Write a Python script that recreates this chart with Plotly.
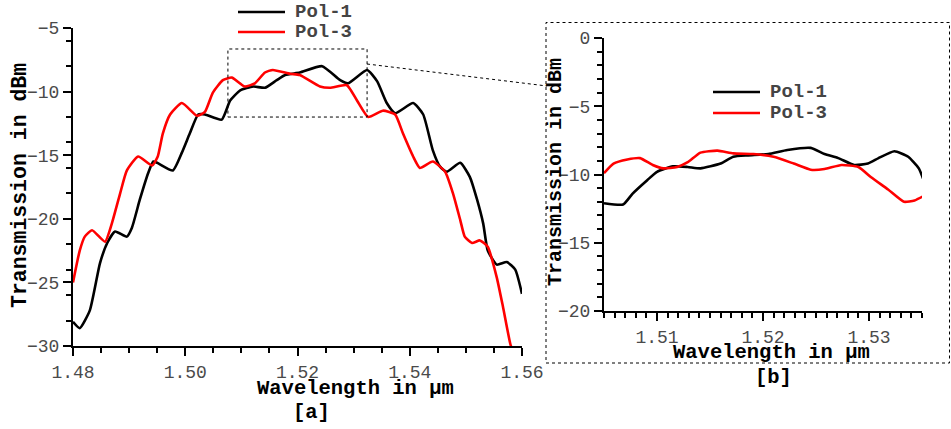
import plotly.graph_objects as go

# ---- Panel [a] data ----
a_pol1_x = [1.4800, 1.4812, 1.4830, 1.4848, 1.4861, 1.4875, 1.4896, 1.4905, 1.4919, 1.4934,
            1.4943, 1.4950, 1.4978, 1.4994, 1.5008, 1.5023, 1.5035, 1.5065, 1.5080, 1.5098,
            1.5121, 1.5142, 1.5163, 1.5178, 1.5204, 1.5244, 1.5276, 1.5290, 1.5324, 1.5342,
            1.5359, 1.5374, 1.5406, 1.5424, 1.5441, 1.5454, 1.5466, 1.5490, 1.5507, 1.5520,
            1.5531, 1.5539, 1.5555, 1.5573, 1.5588, 1.5600]
a_pol1_y = [-28.1, -28.6, -27.2, -23.5, -21.9, -21.0, -21.4, -20.7, -18.5, -16.4,
            -15.5, -15.6, -16.2, -14.8, -13.3, -11.8, -11.8, -12.2, -10.7, -9.9,
            -9.6, -9.7, -9.1, -8.7, -8.5, -8.0, -9.1, -9.35, -8.3, -9.2,
            -10.9, -11.7, -10.9, -11.8, -14.6, -15.9, -16.3, -15.6, -16.7, -18.5,
            -20.4, -22.5, -23.6, -23.4, -24.0, -25.9]

a_pol3_x = [1.4800, 1.4812, 1.4821, 1.4834, 1.4857, 1.4869, 1.4884, 1.4896, 1.4916, 1.4941,
            1.4951, 1.4960, 1.4973, 1.4994, 1.5021, 1.5035, 1.5049, 1.5067, 1.5083, 1.5106,
            1.5124, 1.5142, 1.5156, 1.5187, 1.5204, 1.5240, 1.5258, 1.5288, 1.5306, 1.5326,
            1.5352, 1.5374, 1.5388, 1.5406, 1.5418, 1.5441, 1.5463, 1.5477, 1.5490, 1.5498,
            1.5511, 1.5525, 1.5539, 1.5555, 1.5566, 1.5579, 1.5584]
a_pol3_y = [-25.0, -22.5, -21.4, -20.9, -21.8, -20.4, -18.0, -16.2, -15.1, -15.8,
            -15.1, -13.3, -11.8, -10.9, -11.9, -11.6, -10.1, -9.1, -8.9, -9.6,
            -9.35, -8.5, -8.3, -8.6, -8.7, -9.6, -9.7, -9.5, -10.7, -12.0,
            -11.5, -11.8, -13.3, -15.1, -16.0, -15.5, -16.3, -18.0, -20.1, -21.4,
            -21.9, -21.7, -22.2, -24.6, -26.9, -29.8, -30.5]

# ---- Panel [b] data (zoom) ----
b_pol1_x = [1.5050, 1.5068, 1.5077, 1.5091, 1.5100, 1.5115, 1.5129, 1.5141, 1.5160, 1.5172,
            1.5186, 1.5205, 1.5223, 1.5245, 1.5258, 1.5271, 1.5286, 1.5299, 1.5309, 1.5324,
            1.5337, 1.5347, 1.5351]
b_pol1_y = [-12.1, -12.2, -11.4, -10.4, -9.8, -9.4, -9.45, -9.55, -9.2, -8.7,
            -8.6, -8.5, -8.2, -8.05, -8.5, -8.8, -9.3, -9.2, -8.8, -8.3,
            -8.7, -9.55, -10.3]

b_pol3_x = [1.5050, 1.5059, 1.5072, 1.5084, 1.5096, 1.5106, 1.5119, 1.5129, 1.5141, 1.5157,
            1.5172, 1.5191, 1.5210, 1.5229, 1.5245, 1.5258, 1.5274, 1.5290, 1.5302, 1.5318,
            1.5333, 1.5343, 1.5351]
b_pol3_y = [-9.9, -9.2, -8.9, -8.8, -9.3, -9.55, -9.45, -9.1, -8.4, -8.25,
            -8.45, -8.5, -8.7, -9.2, -9.65, -9.6, -9.3, -9.45, -10.2, -11.1,
            -12.0, -11.9, -11.6]

series_names = ["Pol-1", "Pol-3"]
series_colors = ["#000000", "#ff0000"]

W, H = 951, 429
FONT = "Liberation Mono, Courier New, monospace"

def px(x):
    return x / W

def py(y):
    return 1 - y / H

fig = go.Figure()

for xs, ys, name, col in [(a_pol1_x, a_pol1_y, series_names[0], series_colors[0]),
                          (a_pol3_x, a_pol3_y, series_names[1], series_colors[1])]:
    fig.add_trace(go.Scatter(x=xs, y=ys, mode="lines", name=name, showlegend=False,
                             line=dict(color=col, width=2.6, shape="spline", smoothing=0.5),
                             xaxis="x", yaxis="y"))
for xs, ys, name, col in [(b_pol1_x, b_pol1_y, series_names[0], series_colors[0]),
                          (b_pol3_x, b_pol3_y, series_names[1], series_colors[1])]:
    fig.add_trace(go.Scatter(x=xs, y=ys, mode="lines", name=name, showlegend=False,
                             line=dict(color=col, width=2.6, shape="spline", smoothing=0.5),
                             xaxis="x2", yaxis="y2"))

tickfont = dict(family=FONT, size=18, color="#4a4a4a")
common = dict(showline=True, linecolor="black", linewidth=2, ticks="outside", ticklen=8,
              tickwidth=1.5, tickcolor="black", showgrid=False, zeroline=False,
              tickfont=tickfont, automargin=False)

fig.update_layout(
    width=W, height=H, margin=dict(l=0, r=0, t=0, b=0, autoexpand=False),
    paper_bgcolor="white", plot_bgcolor="white", showlegend=False,
    xaxis=dict(domain=[px(73), px(522)], range=[1.48, 1.56], dtick=0.02, tick0=1.48,
               tickformat=".2f", anchor="y",
               minor=dict(dtick=0.005, tick0=1.48, ticks="outside", ticklen=5, tickcolor="black"),
               **common),
    yaxis=dict(domain=[py(346), py(28)], range=[-30, -5], dtick=5, tick0=-30, anchor="x",
               minor=dict(dtick=2, tick0=0, ticks="outside", ticklen=5, tickcolor="black"),
               **common),
    xaxis2=dict(domain=[px(604), px(922)], range=[1.505, 1.535], dtick=0.01, tick0=1.51,
                tickformat=".2f", anchor="y2",
                minor=dict(dtick=0.001, tick0=1.505, ticks="outside", ticklen=5, tickcolor="black"),
                **common),
    yaxis2=dict(domain=[py(311), py(38)], range=[-20, 0], dtick=5, tick0=-20, anchor="x2",
                minor=dict(dtick=1, tick0=0, ticks="outside", ticklen=5, tickcolor="black"),
                **common),
)

shapes = []
dash = dict(color="black", width=1, dash="dot")
# zoom rectangle on panel a
shapes.append(dict(type="rect", xref="x", yref="y", x0=1.5076, x1=1.5324, y0=-12.0, y1=-6.65,
                   line=dash, fillcolor="rgba(0,0,0,0)"))
# connector line
shapes.append(dict(type="line", xref="paper", yref="paper", x0=px(367), y0=py(64),
                   x1=px(547), y1=py(86), line=dash))
# inset frame
shapes.append(dict(type="rect", xref="paper", yref="paper", x0=px(546), x1=px(949.5),
                   y0=py(363), y1=py(22.5), line=dash, fillcolor="rgba(0,0,0,0)"))

# manual legends
def legend(x0, y1, y2):
    for yy, col in [(y1, series_colors[0]), (y2, series_colors[1])]:
        shapes.append(dict(type="line", xref="paper", yref="paper", x0=px(x0), x1=px(x0 + 47),
                           y0=py(yy), y1=py(yy), line=dict(color=col, width=2.5)))

legend(238, 12, 32)
legend(713, 92, 113)
fig.update_layout(shapes=shapes)

ann = []
def text(x, y, s, size=20, bold=True, color="black", angle=0, xanchor="center"):
    ann.append(dict(xref="paper", yref="paper", x=px(x), y=py(y), text=("<b>%s</b>" % s) if bold else s,
                    showarrow=False, textangle=angle, xanchor=xanchor, yanchor="middle",
                    font=dict(family=FONT, size=size, color=color)))

legtxt_col = "#444444"
text(293, 12, series_names[0], size=19, color=legtxt_col, xanchor="left")
text(293, 32, series_names[1], size=19, color=legtxt_col, xanchor="left")
text(768, 92, series_names[0], size=19, color=legtxt_col, xanchor="left")
text(768, 113, series_names[1], size=19, color=legtxt_col, xanchor="left")

text(355, 388, "Wavelength in µm", size=20.5)
text(311, 412, "[a]", size=20.5)
text(20, 186, "Transmission in dBm", size=21.5, angle=-90)
text(771, 352, "Wavelength in µm", size=20.5)
text(773, 377, "[b]", size=20.5)
text(555, 172, "Transmission in dBm", size=20, angle=-90)
fig.update_layout(annotations=ann)

fig.write_html("out.html")
